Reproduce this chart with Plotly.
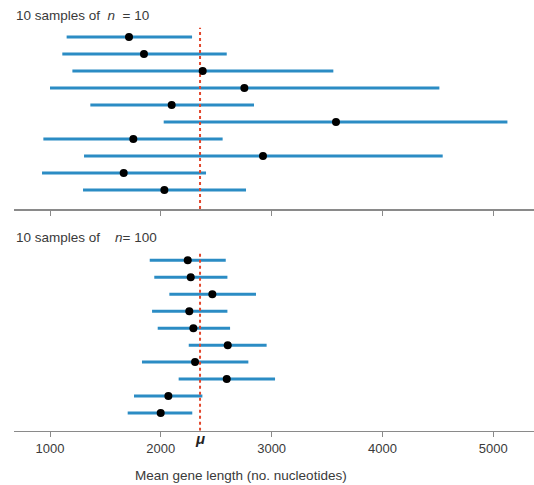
import plotly.graph_objects as go

# Top panel: 10 samples of n = 10 (rows top to bottom)
top_mean = [1713, 1848, 2378, 2754, 2098, 3581, 1752, 2922, 1665, 2032]
top_low = [1150, 1111, 1202, 1000, 1364, 2026, 940, 1307, 928, 1298]
top_high = [2282, 2595, 3557, 4514, 2841, 5128, 2558, 4544, 2408, 2769]

# Bottom panel: 10 samples of n = 100
bot_mean = [2243, 2270, 2465, 2257, 2294, 2604, 2309, 2595, 2068, 1999]
bot_low = [1900, 1941, 2077, 1921, 1972, 2252, 1830, 2161, 1758, 1701]
bot_high = [2586, 2601, 2859, 2601, 2625, 2955, 2790, 3031, 2375, 2284]

mu = 2354
tick_vals = [1000, 2000, 3000, 4000, 5000]
tick_text = ["1000", "2000", "3000", "4000", "5000"]

BLUE = "#2b8cc4"
RED = "#e2472c"
TXT = "#3a3a3a"
W, H = 534, 485

fig = go.Figure()

def add_panel(means, lows, highs, xa, ya, ybottom):
    n = len(means)
    rows = [n - i for i in range(n)]
    for lo, hi, r in zip(lows, highs, rows):
        fig.add_trace(go.Scatter(x=[lo, hi], y=[r, r], mode="lines",
                                 line=dict(color=BLUE, width=3),
                                 xaxis=xa, yaxis=ya, showlegend=False,
                                 hoverinfo="skip"))
    fig.add_trace(go.Scatter(x=[mu, mu], y=[ybottom, 10.55], mode="lines",
                             line=dict(color=RED, width=2, dash="dot"),
                             xaxis=xa, yaxis=ya, showlegend=False))
    fig.add_trace(go.Scatter(x=means, y=rows, mode="markers",
                             marker=dict(color="black", size=8),
                             xaxis=xa, yaxis=ya, showlegend=False))

add_panel(top_mean, top_low, top_high, "x", "y", -0.118)
add_panel(bot_mean, bot_low, bot_high, "x2", "y2", -0.04)

xcommon = dict(range=[675, 5368], showgrid=False, zeroline=False,
               showline=True, linecolor="#8a8a8a", linewidth=1.5,
               ticks="outside", ticklen=5, tickcolor="#8a8a8a",
               tickvals=tick_vals, fixedrange=True, automargin=False)

fig.update_layout(
    width=W, height=H,
    margin=dict(l=14, r=0, t=0, b=0, autoexpand=False),
    plot_bgcolor="white", paper_bgcolor="white",
    font=dict(family="Liberation Sans, Arial, sans-serif", size=13, color=TXT),
    xaxis=dict(**xcommon, anchor="y", showticklabels=False),
    yaxis=dict(domain=[1 - 209 / H, 1 - 20 / H], range=[-0.118, 11],
               visible=False, fixedrange=True),
    xaxis2=dict(**xcommon, anchor="y2", ticktext=tick_text,
                tickfont=dict(size=13, color=TXT)),
    yaxis2=dict(domain=[1 - 430.7 / H, 1 - 243.3 / H], range=[-0.04, 11],
                visible=False, fixedrange=True),
)

fig.add_annotation(text="10 samples of  <i>n</i>  = 10", xref="paper", yref="paper",
                   x=0, y=1 - 15 / H, xanchor="left", yanchor="middle",
                   showarrow=False, font=dict(size=13.5, color=TXT))
fig.add_annotation(text="10 samples of    <i>n</i>= 100", xref="paper", yref="paper",
                   x=0, y=1 - 237 / H, xanchor="left", yanchor="middle",
                   showarrow=False, font=dict(size=13.5, color=TXT))
fig.add_annotation(text="<b><i>μ</i></b>", xref="x2", yref="paper",
                   x=mu, y=1 - 438 / H, xanchor="center", yanchor="middle",
                   showarrow=False, font=dict(size=15, color="#222222"))
fig.add_annotation(text="Mean gene length (no. nucleotides)", xref="paper", yref="paper",
                   x=(241 - 14) / (W - 14), y=1 - 475 / H, xanchor="center", yanchor="middle",
                   showarrow=False, font=dict(size=13.5, color=TXT))

fig.write_html("out.html",
               config={"displayModeBar": False, "staticPlot": True},
               post_script="document.body.style.margin='0';document.body.style.padding='0';")
